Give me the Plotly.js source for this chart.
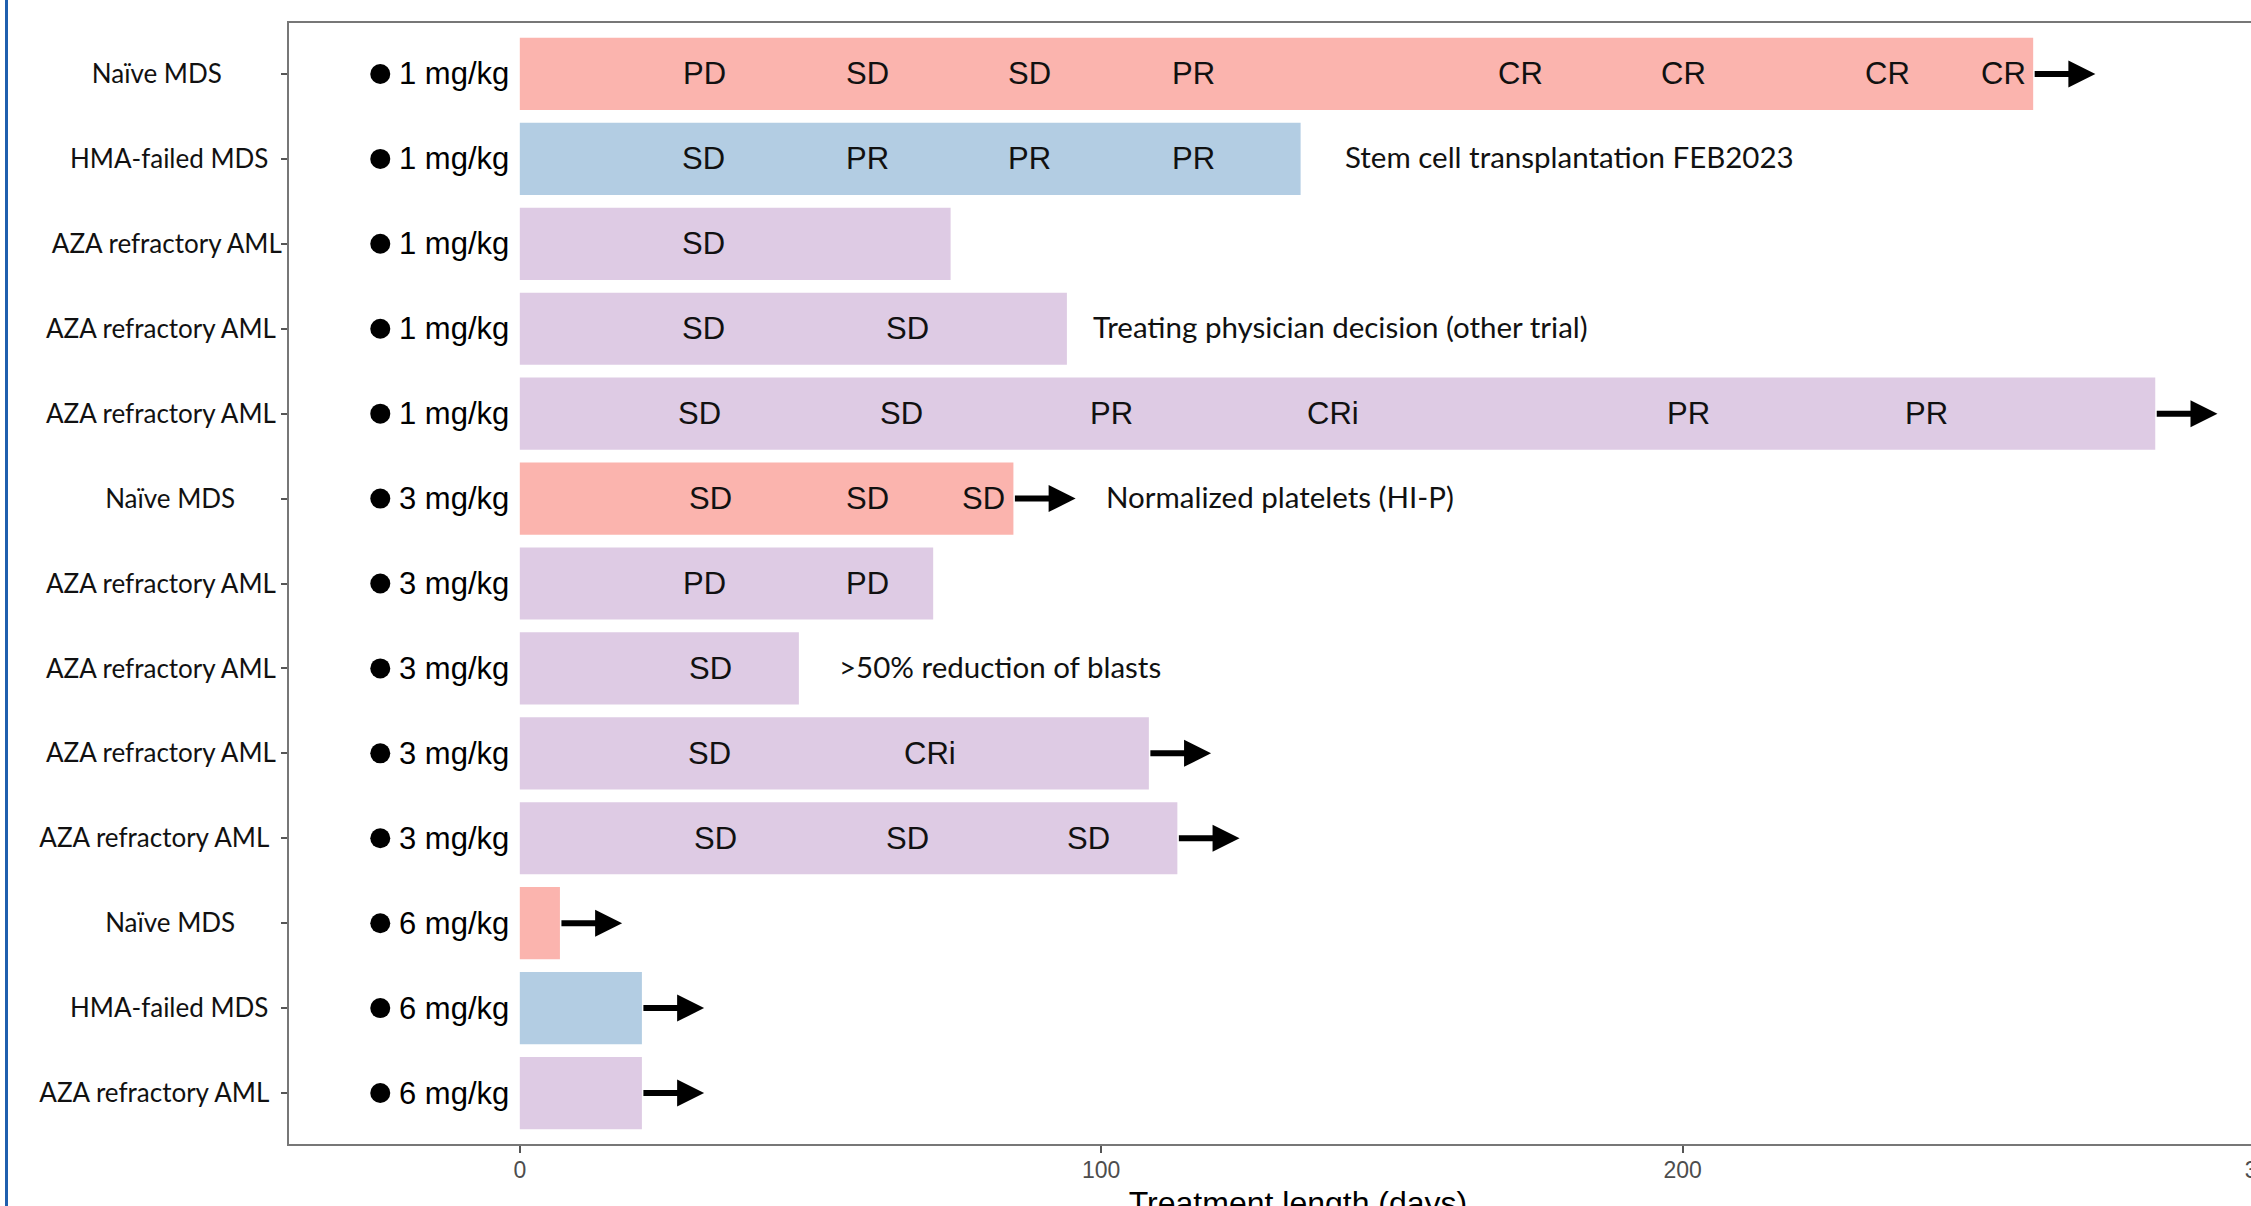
<!DOCTYPE html>
<html><head><meta charset="utf-8">
<script src="https://cdn.plot.ly/plotly-3.0.1.min.js"></script>
<style>
html,body{margin:0;padding:0;overflow:hidden;background:#fff;width:2251px;height:1206px}
#chart{position:absolute;left:0;top:0;width:2320px;height:1240px}
#frame{position:absolute;left:5px;top:0;width:3px;height:1206px;background:#1f5fae;z-index:5}
</style></head><body>
<div id="chart"></div><div id="frame"></div>
<script>
// ---- data ----
const rows = [1,2,3,4,5,6,7,8,9,10,11,12,13];
const diseaseGroup = ['Naïve MDS','HMA-failed MDS','AZA refractory AML','AZA refractory AML','AZA refractory AML',
  'Naïve MDS','AZA refractory AML','AZA refractory AML','AZA refractory AML','AZA refractory AML',
  'Naïve MDS','HMA-failed MDS','AZA refractory AML'];
const rowLabels = ['Naïve MDS','HMA-failed MDS','AZA refractory AML','AZA refractory AML','AZA refractory AML',
  'Naïve MDS','AZA refractory AML','AZA refractory AML','AZA refractory AML','AZA refractory AML',
  'Naïve MDS','HMA-failed MDS','AZA refractory AML'];
const doseLabels = ['1 mg/kg','1 mg/kg','1 mg/kg','1 mg/kg','1 mg/kg','3 mg/kg','3 mg/kg','3 mg/kg','3 mg/kg','3 mg/kg','6 mg/kg','6 mg/kg','6 mg/kg'];
const treatmentDays = [260.3,134.3,74.1,94.1,281.3,84.9,71.1,48.0,108.2,113.1,6.9,21.0,21.0];
const ongoing = [true,false,false,false,true,true,false,false,true,true,true,true,true];

const respRow  = [1,1,1,1,1,1,1,1, 2,2,2,2, 3, 4,4, 5,5,5,5,5,5, 6,6,6, 7,7, 8, 9,9, 10,10,10];
const respDay  = [31.7,59.8,87.7,115.8,172.1,200.2,235.3,255.2, 31.6,59.8,87.7,115.8, 31.6, 31.6,66.7,
  30.9,65.7,101.7,139.8,201.0,242.0, 32.8,59.8,79.8, 31.7,59.8, 32.8, 32.6,70.6, 33.6,66.7,97.8];
const respText = ['PD','SD','SD','PR','CR','CR','CR','CR', 'SD','PR','PR','PR', 'SD', 'SD','SD',
  'SD','SD','PR','CRi','PR','PR', 'SD','SD','SD', 'PD','PD', 'SD', 'SD','CRi', 'SD','SD','SD'];

const noteRow  = [2,4,6,8];
const noteDay  = [142.2,99.0,101.2,55.2];
const noteText = ['Stem cell transplantation FEB2023','Treating physician decision (other trial)',
  'Normalized platelets (HI-P)','>50% reduction of blasts'];

const xTicks = [0,100,200,300];

// ---- styling ----
const groupColor = {'Naïve MDS':'#FBB4AE','HMA-failed MDS':'#B3CDE3','AZA refractory AML':'#DECBE4'};
const labelPad = [9,2,0,1,1,7,1,1,1,2,7,2,2];   // trailing spaces in the original labels
const DOT_X = -24.0, DOSE_TEXT_X = -11.4, ARROW_LEN = 10.7;
const ARIAL = 'Liberation Sans, Arial, sans-serif';
const CALIBRI = 'Lato, Carlito, Calibri, sans-serif';

const tickText = rowLabels.map((s,i)=> s + '\u00A0'.repeat(labelPad[i]));

const traces = [
  {type:'bar', orientation:'h', x:treatmentDays, y:rows, width:0.85,
   marker:{color:diseaseGroup.map(g=>groupColor[g]), line:{width:0}}, hoverinfo:'skip'},
  {type:'scatter', mode:'markers', x:rows.map(()=>DOT_X), y:rows,
   marker:{symbol:'circle', size:20, color:'#000'}, hoverinfo:'skip'}
];

const annotations = [];
rows.forEach((r,i)=>annotations.push({x:DOSE_TEXT_X, y:r, xref:'x', yref:'y', text:doseLabels[i],
  showarrow:false, xanchor:'center', yanchor:'middle', yshift:0, font:{family:ARIAL, size:31, color:'#000'}}));
respRow.forEach((r,i)=>annotations.push({x:respDay[i], y:r, xref:'x', yref:'y', text:respText[i],
  showarrow:false, xanchor:'center', yanchor:'middle', yshift:0, font:{family:ARIAL, size:31, color:'#111'}}));
noteRow.forEach((r,i)=>annotations.push({x:noteDay[i], y:r, xref:'x', yref:'y', text:noteText[i],
  showarrow:false, xanchor:'left', yanchor:'middle', xshift:-4, yshift:2, font:{family:CALIBRI, size:29.5, color:'#111'}}));
rows.forEach((r,i)=>{ if(ongoing[i]) annotations.push({
  x:treatmentDays[i]+ARROW_LEN, y:r, ax:treatmentDays[i], ay:r, xref:'x', yref:'y', axref:'x', ayref:'y',
  text:'', showarrow:true, arrowhead:2, arrowsize:0.9, arrowwidth:6, arrowcolor:'#000', standoff:0, startstandoff:0}); });

const layout = {
  width:2320, height:1240,
  margin:{l:289, r:13, t:23, b:96, pad:0},
  paper_bgcolor:'#fff', plot_bgcolor:'#fff', showlegend:false,
  xaxis:{range:[-39.7,307.4], tickvals:xTicks, ticktext:xTicks.map(String), ticks:'outside', ticklen:7, tickwidth:2,
    tickcolor:'#555', showgrid:false, zeroline:false, showline:true, mirror:true, linecolor:'#777', linewidth:2,
    ticklabelstandoff:-3,
    tickfont:{family:ARIAL, size:23, color:'#4d4d4d'},
    title:{text:'Treatment length (days)', font:{family:ARIAL, size:32, color:'#000'}, standoff:10}},
  yaxis:{range:[13.6,0.4], tickvals:rows, ticktext:tickText, ticks:'outside', ticklen:6, tickwidth:2,
    tickcolor:'#555', showgrid:false, zeroline:false, showline:true, mirror:true, linecolor:'#777', linewidth:2,
    ticklabelstandoff:-6,
    tickfont:{family:CALIBRI, size:26, color:'#111'}},
  annotations:annotations
};
Plotly.newPlot('chart', traces, layout, {staticPlot:true, displayModeBar:false});
</script></body></html>
